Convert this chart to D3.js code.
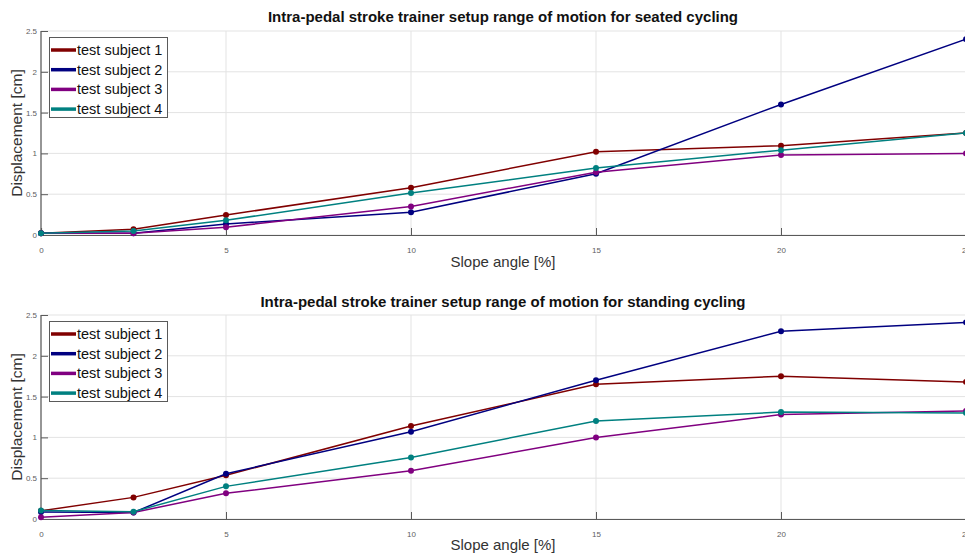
<!DOCTYPE html>
<html>
<head>
<meta charset="utf-8">
<script src="https://cdn.jsdelivr.net/npm/d3@7"></script>
<style>
  html, body { margin: 0; padding: 0; background: #fff; }
  svg { display: block; font-family: "Liberation Sans", Arial, Helvetica, sans-serif; }
</style>
</head>
<body>
<svg id="chart" width="965" height="554"></svg>
<script>
// Slope angles (%) at which displacement was measured
const slopes = [0, 2.5, 5, 10, 15, 20, 25];
const subjects = ["test subject 1", "test subject 2", "test subject 3", "test subject 4"];
const subjectColors = ["#800000", "#000080", "#800080", "#008080"];

// Seated cycling displacement [cm] per subject
const seated1 = [0.02, 0.07, 0.245, 0.58, 1.02, 1.095, 1.25];
const seated2 = [0.02, 0.02, 0.135, 0.28, 0.75, 1.60, 2.40];
const seated3 = [0.02, 0.02, 0.095, 0.35, 0.77, 0.98, 1.00];
const seated4 = [0.02, 0.05, 0.18, 0.515, 0.82, 1.04, 1.25];

// Standing cycling displacement [cm] per subject
const standing1 = [0.10, 0.265, 0.535, 1.14, 1.65, 1.75, 1.68];
const standing2 = [0.085, 0.08, 0.555, 1.07, 1.70, 2.30, 2.41];
const standing3 = [0.02, 0.08, 0.315, 0.59, 1.00, 1.28, 1.325];
const standing4 = [0.105, 0.09, 0.40, 0.755, 1.20, 1.31, 1.30];

const xTicks = [0, 5, 10, 15, 20, 25];
const yTicks = [0, 0.5, 1, 1.5, 2, 2.5];

const panels = [
  { title: "Intra-pedal stroke trainer setup range of motion for seated cycling",
    series: [seated1, seated2, seated3, seated4], top: 31, bottom: 235, titleY: 22, xlabY: 267 },
  { title: "Intra-pedal stroke trainer setup range of motion for standing cycling",
    series: [standing1, standing2, standing3, standing4], top: 315, bottom: 519, titleY: 307, xlabY: 550 }
];

const svg = d3.select("#chart");
const left = 41, right = 966;

panels.forEach(p => {
  const x = d3.scaleLinear().domain([0, 25]).range([left, right]);
  const y = d3.scaleLinear().domain([0, 2.5]).range([p.bottom, p.top]);
  const g = svg.append("g");

  // grid
  g.append("g").selectAll("line").data(xTicks).join("line")
    .attr("x1", d => x(d)).attr("x2", d => x(d))
    .attr("y1", p.top).attr("y2", p.bottom)
    .attr("stroke", "#e3e3e3").attr("stroke-width", 1);
  g.append("g").selectAll("line").data(yTicks).join("line")
    .attr("x1", left).attr("x2", right)
    .attr("y1", d => y(d)).attr("y2", d => y(d))
    .attr("stroke", "#e3e3e3").attr("stroke-width", 1);

  // axes (ticks point inward)
  const xAxis = d3.axisBottom(x).tickValues(xTicks).tickSize(-7).tickPadding(12).tickFormat(d3.format("~g"));
  const yAxis = d3.axisLeft(y).tickValues(yTicks).tickSize(-7).tickPadding(11).tickFormat(d3.format("~g"));
  const ax = g.append("g").attr("transform", `translate(0,${p.bottom})`).call(xAxis);
  const ay = g.append("g").attr("transform", `translate(${left},0)`).call(yAxis);
  [ax, ay].forEach(a => {
    a.select(".domain").attr("stroke", "#5a5a5a").attr("stroke-width", 1.2);
    a.selectAll(".tick line").attr("stroke", "#5a5a5a");
    a.selectAll(".tick text").attr("fill", "#606060").attr("font-size", 8)
      .attr("font-family", "'Liberation Sans', Arial, sans-serif");
  });
  ay.select(".domain").attr("d", `M0,${p.bottom}V${p.top}`);
  ay.selectAll(".tick text").attr("x", -4);

  // series
  const line = d3.line().x((d, i) => x(slopes[i])).y(d => y(d));
  p.series.forEach((vals, k) => {
    g.append("path").datum(vals).attr("d", line)
      .attr("fill", "none").attr("stroke", subjectColors[k]).attr("stroke-width", 1.5);
    g.append("g").selectAll("circle").data(vals).join("circle")
      .attr("cx", (d, i) => x(slopes[i])).attr("cy", d => y(d)).attr("r", 3)
      .attr("fill", subjectColors[k]);
  });

  // title
  svg.append("text").attr("x", 503).attr("y", p.titleY).attr("text-anchor", "middle")
    .attr("font-weight", "bold").attr("font-size", 15).attr("fill", "#111").text(p.title);
  // x label
  svg.append("text").attr("x", 503).attr("y", p.xlabY).attr("text-anchor", "middle")
    .attr("font-size", 15).attr("fill", "#333").text("Slope angle [%]");
  // y label
  svg.append("text")
    .attr("transform", `translate(22,${(p.top + p.bottom) / 2}) rotate(-90)`)
    .attr("text-anchor", "middle").attr("font-size", 15.5).attr("fill", "#333")
    .text("Displacement [cm]");

  // legend
  const lg = svg.append("g").attr("transform", `translate(49,${p.top + 6})`);
  lg.append("rect").attr("x", 0.5).attr("y", 0.5).attr("width", 118).attr("height", 80)
    .attr("fill", "#fff").attr("stroke", "#5a5a5a").attr("stroke-width", 1);
  subjects.forEach((s, k) => {
    const yy = 13 + k * 19.7;
    lg.append("line").attr("x1", 2).attr("x2", 27).attr("y1", yy).attr("y2", yy)
      .attr("stroke", subjectColors[k]).attr("stroke-width", 3.5);
    lg.append("text").attr("x", 28).attr("y", yy + 5).attr("font-size", 14.5)
      .attr("fill", "#111").text(s);
  });
});
</script>
</body>
</html>
